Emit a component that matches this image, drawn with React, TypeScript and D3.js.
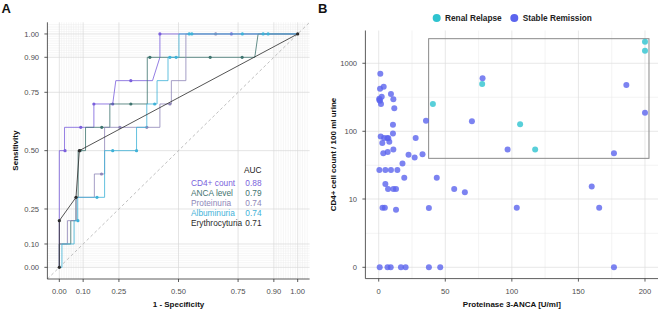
import React from 'react';
import * as d3 from 'd3';

// ---------- Panel A data (ROC curves) ----------
const rocNames = ['CD4+ count', 'ANCA level', 'Proteinuria', 'Albuminuria', 'Erythrocyturia'];
const rocAuc = ['0.88', '0.79', '0.74', '0.74', '0.71'];
const rocColors = ['#7a5fdc', '#3f746f', '#8f87b9', '#3fb2d8', '#2b2b2b'];

const cd4Path: [number, number][] = [[0, 0], [0, 0.5], [0.022, 0.5], [0.022, 0.6], [0.145, 0.6], [0.145, 0.7], [0.224, 0.7], [0.237, 0.8], [0.391, 0.8], [0.422, 0.9], [0.422, 1], [1, 1]];
const cd4Dots: [number, number][] = [[0.024, 0.5], [0.09, 0.6], [0.145, 0.7], [0.224, 0.7], [0.3, 0.8], [0.422, 1], [0.722, 1]];

const ancaPath: [number, number][] = [[0, 0], [0, 0.1], [0.048, 0.1], [0.048, 0.2], [0.07, 0.2], [0.07, 0.3], [0.079, 0.3], [0.079, 0.5], [0.11, 0.5], [0.11, 0.6], [0.212, 0.6], [0.212, 0.7], [0.369, 0.7], [0.369, 0.9], [0.82, 0.9], [0.834, 1], [1, 1]];
const ancaDots: [number, number][] = [[0.087, 0.5], [0.178, 0.6], [0.3, 0.7], [0.38, 0.9], [0.633, 0.9], [0.767, 0.9]];

const protPath: [number, number][] = [[0, 0], [0, 0.1], [0.034, 0.1], [0.034, 0.2], [0.07, 0.2], [0.07, 0.3], [0.147, 0.3], [0.147, 0.4], [0.19, 0.4], [0.19, 0.6], [0.422, 0.6], [0.422, 0.7], [0.47, 0.7], [0.47, 0.8], [0.531, 0.8], [0.531, 1], [1, 1]];
const protDots: [number, number][] = [[0.177, 0.4], [0.254, 0.6], [0.367, 0.6], [0.464, 0.7], [0.656, 1]];

const albPath: [number, number][] = [[0, 0], [0.011, 0], [0.011, 0.1], [0.062, 0.1], [0.062, 0.2], [0.077, 0.2], [0.077, 0.3], [0.19, 0.3], [0.19, 0.5], [0.324, 0.5], [0.324, 0.6], [0.367, 0.6], [0.367, 0.7], [0.41, 0.7], [0.41, 0.8], [0.456, 0.8], [0.456, 0.9], [0.502, 0.9], [0.502, 1], [1, 1]];
const albDots: [number, number][] = [[0.078, 0.2], [0.158, 0.3], [0.224, 0.5], [0.324, 0.5], [0.4, 0.7], [0.464, 0.9], [0.49, 0.9], [0.545, 1], [0.556, 1], [0.768, 1], [0.855, 1], [0.876, 1]];

const eryPath: [number, number][] = [[0, 0], [0, 0.2], [0.07, 0.3], [0.084, 0.5], [1, 1]];
const eryDots: [number, number][] = [[0, 0], [0, 0.2], [0.07, 0.3], [0.084, 0.5], [1, 1]];

const rocTicks = [0, 0.1, 0.25, 0.5, 0.75, 0.9, 1];

// ---------- Panel B data (scatter) ----------
const remissionX = [1.2, 1.0, 3.75, 0.45, 1.0, 2.25, 1.7, 0.45, 9.2, 11, 11.7, 10.7, 10.7, 1.5, 2.7, 4, 6.45, 7.2, 7.95, 3.45, 6.75, 11, 22.4, 27, 27.75, 32.9, 35.5, 70, 78, 96.8, 176.7, 186, 200, 17.85, 0.5, 5, 9.2, 14, 19.2, 43.6, 5, 7, 11, 13, 56.7, 64.7, 2.85, 4.6, 13, 37.7, 103.7, 160, 165.6, 0.75, 6.6, 9, 16.7, 20.2, 37.7, 46.2, 176.7];
const remissionY = [700, 423, 453, 301, 282, 323, 252, 288, 354, 295, 218, 125, 93, 84, 67, 80, 80, 79, 70, 47.5, 49.6, 54, 45, 41, 80, 46, 143, 140, 600, 54, 47.5, 480, 187, 33.6, 27, 27, 27, 27, 20.7, 20.7, 16.7, 14.1, 14.1, 14.1, 14.1, 12.6, 7.4, 7.4, 6.9, 7.3, 7.4, 15.4, 7.4, 0, 0, 0, 0, 0, 0, 0, 0];
const relapseX = [40.7, 77.7, 106.2, 117.5, 200, 200];
const relapseY = [252, 496, 127, 54, 2070, 1531];
const groupNames = ['Renal Relapse', 'Stable Remission'];
const groupColors = ['#2ec3cf', '#5b64ee'];
const scatterXTicks = [0, 50, 100, 150, 200];
const scatterYTicks = [0, 10, 100, 1000];
const boxX = [37.5, 203];
const boxY = [40, 2300];

const FONT = '"Liberation Sans", Arial, Helvetica, sans-serif';

export default function App() {
  // Panel A scales
  const xA = d3.scaleLinear().domain([-0.05, 1.05]).range([47.4, 309.6]);
  const yA = d3.scaleLinear().domain([-0.05, 1.05]).range([279, 22.3]);
  const lineA = d3.line<[number, number]>().x(d => xA(d[0])).y(d => yA(d[1]));
  const minorA = [...d3.range(1, 10).map(i => i / 100), ...d3.range(91, 105).filter(i => i !== 100).map(i => i / 100)];

  const series = [
    { path: cd4Path, dots: cd4Dots },
    { path: ancaPath, dots: ancaDots },
    { path: protPath, dots: protDots },
    { path: albPath, dots: albDots },
    { path: eryPath, dots: eryDots },
  ];

  // Panel B scales (pseudo-log transform)
  const tr = (v: number) => Math.asinh(v / 2) / Math.LN10;
  const xB = d3.scaleLinear().domain([-10, 210]).range([365.4, 658.3]);
  const yBt = d3.scaleLinear().domain([-0.166, 3.482]).range([278.6, 30.5]);
  const yB = (v: number) => yBt(tr(v));
  const minorBx = [25, 75, 125, 175];
  const minorBt = [0.5, 1.5, 2.5];

  const tickColor = '#4d4d4d';

  return (
    <svg width={658} height={309} style={{ position: 'absolute', left: 0, top: 0, background: '#fff' }} fontFamily={FONT}>
      {/* ================= Panel A ================= */}
      <text x={1.5} y={12.7} fontSize={13} fontWeight="bold" fill="#111">A</text>
      <g>
        {minorA.map(v => (
          <line key={'mxa' + v} x1={xA(v)} x2={xA(v)} y1={yA(1.05)} y2={yA(-0.05)} stroke="#ebebeb" strokeWidth={0.45} />
        ))}
        {minorA.map(v => (
          <line key={'mya' + v} y1={yA(v)} y2={yA(v)} x1={xA(-0.05)} x2={xA(1.05)} stroke="#ebebeb" strokeWidth={0.45} />
        ))}
        {rocTicks.map(v => (
          <line key={'gxa' + v} x1={xA(v)} x2={xA(v)} y1={yA(1.05)} y2={yA(-0.05)} stroke="#d9d9d9" strokeWidth={0.7} />
        ))}
        {rocTicks.map(v => (
          <line key={'gya' + v} y1={yA(v)} y2={yA(v)} x1={xA(-0.05)} x2={xA(1.05)} stroke="#d9d9d9" strokeWidth={0.7} />
        ))}
      </g>
      <line x1={xA(-0.05)} y1={yA(-0.05)} x2={xA(1.05)} y2={yA(1.05)} stroke="#b0b0b0" strokeWidth={0.8} strokeDasharray="3,2.5" />
      {series.map((s, i) => (
        <g key={'ser' + i}>
          <path d={lineA(s.path) || ''} fill="none" stroke={rocColors[i]} strokeWidth={0.9} strokeOpacity={0.9} />
          {s.dots.map((d, j) => (
            <circle key={j} cx={xA(d[0])} cy={yA(d[1])} r={1.6} fill={rocColors[i]} />
          ))}
        </g>
      ))}
      {/* axes A */}
      <line x1={xA(-0.05)} x2={xA(-0.05)} y1={yA(1.05)} y2={yA(-0.05)} stroke="#333" strokeWidth={0.8} />
      <line x1={xA(-0.05)} x2={xA(1.05)} y1={yA(-0.05)} y2={yA(-0.05)} stroke="#333" strokeWidth={0.8} />
      {rocTicks.map(v => (
        <g key={'tya' + v}>
          <line x1={xA(-0.05) - 3} x2={xA(-0.05)} y1={yA(v)} y2={yA(v)} stroke="#333" strokeWidth={0.8} />
          <text x={xA(-0.05) - 8.3} y={yA(v) + 2.7} fontSize={7.6} textAnchor="end" fill={tickColor}>{v.toFixed(2)}</text>
        </g>
      ))}
      {rocTicks.map(v => (
        <g key={'txa' + v}>
          <line y1={yA(-0.05)} y2={yA(-0.05) + 3} x1={xA(v)} x2={xA(v)} stroke="#333" strokeWidth={0.8} />
          <text x={xA(v)} y={293.5} fontSize={7.6} textAnchor="middle" fill={tickColor}>{v.toFixed(2)}</text>
        </g>
      ))}
      <text x={(xA(-0.05) + xA(1.05)) / 2} y={306.5} fontSize={8} fontWeight="bold" textAnchor="middle" fill="#111">1 - Specificity</text>
      <text transform={`translate(17.5,${(yA(-0.05) + yA(1.05)) / 2}) rotate(-90)`} fontSize={8} fontWeight="bold" textAnchor="middle" fill="#111">Sensitivity</text>
      {/* AUC legend */}
      <text x={261.5} y={172.8} fontSize={8.3} textAnchor="end" fill="#222">AUC</text>
      {rocNames.map((n, i) => (
        <g key={'leg' + i}>
          <text x={191} y={185.7 + i * 10} fontSize={8.3} fill={rocColors[i]}>{n}</text>
          <text x={261.5} y={185.7 + i * 10} fontSize={8.3} textAnchor="end" fill={rocColors[i]}>{rocAuc[i]}</text>
        </g>
      ))}

      {/* ================= Panel B ================= */}
      <text x={318} y={12.7} fontSize={13} fontWeight="bold" fill="#111">B</text>
      {/* legend */}
      <circle cx={436.7} cy={18} r={4} fill={groupColors[0]} />
      <text x={445} y={21} fontSize={8.3} fontWeight="bold" fill="#222">{groupNames[0]}</text>
      <circle cx={514.3} cy={18} r={4} fill={groupColors[1]} />
      <text x={522.7} y={21} fontSize={8.3} fontWeight="bold" fill="#222">{groupNames[1]}</text>
      {/* grid */}
      {minorBx.map(v => (
        <line key={'mxb' + v} x1={xB(v)} x2={xB(v)} y1={yBt(3.482)} y2={yBt(-0.166)} stroke="#ededed" strokeWidth={0.6} />
      ))}
      {minorBt.map(t => (
        <line key={'myb' + t} y1={yBt(t)} y2={yBt(t)} x1={xB(-10)} x2={xB(210)} stroke="#ededed" strokeWidth={0.6} />
      ))}
      {scatterXTicks.map(v => (
        <line key={'gxb' + v} x1={xB(v)} x2={xB(v)} y1={yBt(3.482)} y2={yBt(-0.166)} stroke="#dcdcdc" strokeWidth={0.7} />
      ))}
      {scatterYTicks.map(v => (
        <line key={'gyb' + v} y1={yB(v)} y2={yB(v)} x1={xB(-10)} x2={xB(210)} stroke="#dcdcdc" strokeWidth={0.7} />
      ))}
      {/* box */}
      <rect x={xB(boxX[0])} y={yB(boxY[1])} width={xB(boxX[1]) - xB(boxX[0])} height={yB(boxY[0]) - yB(boxY[1])} fill="none" stroke="#8a8a8a" strokeWidth={1} />
      {/* points */}
      {remissionX.map((x, i) => (
        <circle key={'rm' + i} cx={xB(x)} cy={yB(remissionY[i])} r={3} fill={groupColors[1]} fillOpacity={0.8} />
      ))}
      {relapseX.map((x, i) => (
        <circle key={'rl' + i} cx={xB(x)} cy={yB(relapseY[i])} r={3} fill={groupColors[0]} fillOpacity={0.8} />
      ))}
      {/* axes B */}
      <line x1={xB(-10)} x2={xB(-10)} y1={yBt(3.482)} y2={yBt(-0.166)} stroke="#333" strokeWidth={0.8} />
      <line x1={xB(-10)} x2={xB(210)} y1={yBt(-0.166)} y2={yBt(-0.166)} stroke="#333" strokeWidth={0.8} />
      {scatterYTicks.map(v => (
        <g key={'tyb' + v}>
          <line x1={xB(-10) - 3} x2={xB(-10)} y1={yB(v)} y2={yB(v)} stroke="#333" strokeWidth={0.8} />
          <text x={xB(-10) - 8.3} y={yB(v) + 2.7} fontSize={7.6} textAnchor="end" fill={tickColor}>{String(v)}</text>
        </g>
      ))}
      {scatterXTicks.map(v => (
        <g key={'txb' + v}>
          <line y1={yBt(-0.166)} y2={yBt(-0.166) + 3} x1={xB(v)} x2={xB(v)} stroke="#333" strokeWidth={0.8} />
          <text x={xB(v)} y={293.5} fontSize={7.6} textAnchor="middle" fill={tickColor}>{String(v)}</text>
        </g>
      ))}
      <text x={(xB(-10) + xB(210)) / 2} y={306.5} fontSize={8} fontWeight="bold" textAnchor="middle" fill="#111">Proteinase 3-ANCA [U/ml]</text>
      <text transform={`translate(336,${(yBt(-0.166) + yBt(3.482)) / 2}) rotate(-90)`} fontSize={8} fontWeight="bold" textAnchor="middle" fill="#111">CD4+ cell count / 100 ml urine</text>
    </svg>
  );
}
